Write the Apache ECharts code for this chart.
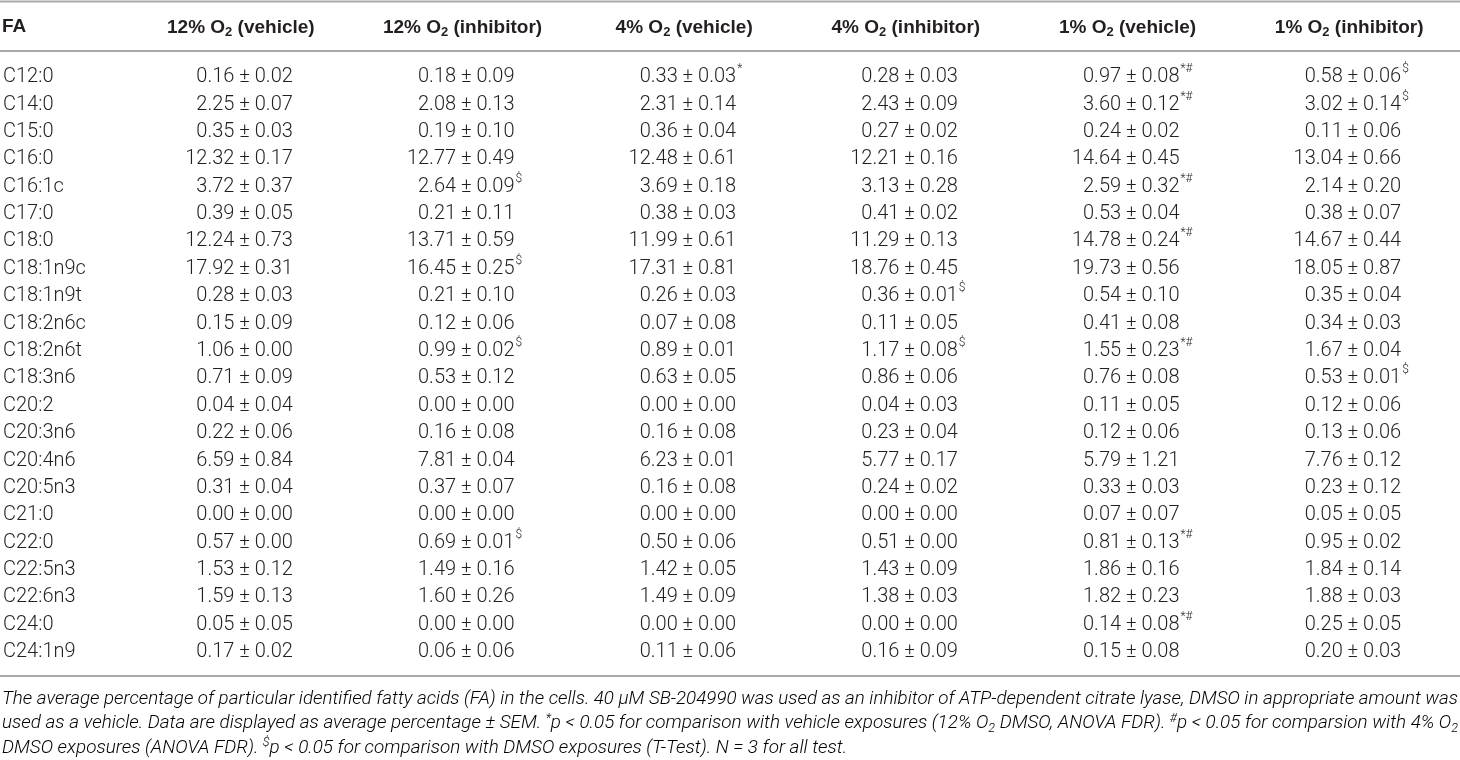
<!DOCTYPE html>
<html>
<head>
<meta charset="utf-8">
<script src="https://cdn.jsdelivr.net/npm/echarts@6/dist/echarts.min.js"></script>
<style>
  html, body { margin: 0; padding: 0; background: #fff; }
  #main { width: 1460px; height: 760px; }
</style>
</head>
<body>
<div id="main"></div>
<script>
// rows of the table
const fattyAcids = ['C12:0', 'C14:0', 'C15:0', 'C16:0', 'C16:1c', 'C17:0', 'C18:0', 'C18:1n9c',
  'C18:1n9t', 'C18:2n6c', 'C18:2n6t', 'C18:3n6', 'C20:2', 'C20:3n6', 'C20:4n6', 'C20:5n3',
  'C21:0', 'C22:0', 'C22:5n3', 'C22:6n3', 'C24:0', 'C24:1n9'];

// column headers: oxygen level + treatment
const oxygenLevels = ['12%', '12%', '4%', '4%', '1%', '1%'];
const treatments = ['vehicle', 'inhibitor', 'vehicle', 'inhibitor', 'vehicle', 'inhibitor'];

// average percentage and SEM per column
const mean12Veh = [0.16, 2.25, 0.35, 12.32, 3.72, 0.39, 12.24, 17.92, 0.28, 0.15, 1.06, 0.71, 0.04, 0.22, 6.59, 0.31, 0.00, 0.57, 1.53, 1.59, 0.05, 0.17];
const sem12Veh  = [0.02, 0.07, 0.03, 0.17, 0.37, 0.05, 0.73, 0.31, 0.03, 0.09, 0.00, 0.09, 0.04, 0.06, 0.84, 0.04, 0.00, 0.00, 0.12, 0.13, 0.05, 0.02];
const mean12Inh = [0.18, 2.08, 0.19, 12.77, 2.64, 0.21, 13.71, 16.45, 0.21, 0.12, 0.99, 0.53, 0.00, 0.16, 7.81, 0.37, 0.00, 0.69, 1.49, 1.60, 0.00, 0.06];
const sem12Inh  = [0.09, 0.13, 0.10, 0.49, 0.09, 0.11, 0.59, 0.25, 0.10, 0.06, 0.02, 0.12, 0.00, 0.08, 0.04, 0.07, 0.00, 0.01, 0.16, 0.26, 0.00, 0.06];
const mean4Veh  = [0.33, 2.31, 0.36, 12.48, 3.69, 0.38, 11.99, 17.31, 0.26, 0.07, 0.89, 0.63, 0.00, 0.16, 6.23, 0.16, 0.00, 0.50, 1.42, 1.49, 0.00, 0.11];
const sem4Veh   = [0.03, 0.14, 0.04, 0.61, 0.18, 0.03, 0.61, 0.81, 0.03, 0.08, 0.01, 0.05, 0.00, 0.08, 0.01, 0.08, 0.00, 0.06, 0.05, 0.09, 0.00, 0.06];
const mean4Inh  = [0.28, 2.43, 0.27, 12.21, 3.13, 0.41, 11.29, 18.76, 0.36, 0.11, 1.17, 0.86, 0.04, 0.23, 5.77, 0.24, 0.00, 0.51, 1.43, 1.38, 0.00, 0.16];
const sem4Inh   = [0.03, 0.09, 0.02, 0.16, 0.28, 0.02, 0.13, 0.45, 0.01, 0.05, 0.08, 0.06, 0.03, 0.04, 0.17, 0.02, 0.00, 0.00, 0.09, 0.03, 0.00, 0.09];
const mean1Veh  = [0.97, 3.60, 0.24, 14.64, 2.59, 0.53, 14.78, 19.73, 0.54, 0.41, 1.55, 0.76, 0.11, 0.12, 5.79, 0.33, 0.07, 0.81, 1.86, 1.82, 0.14, 0.15];
const sem1Veh   = [0.08, 0.12, 0.02, 0.45, 0.32, 0.04, 0.24, 0.56, 0.10, 0.08, 0.23, 0.08, 0.05, 0.06, 1.21, 0.03, 0.07, 0.13, 0.16, 0.23, 0.08, 0.08];
const mean1Inh  = [0.58, 3.02, 0.11, 13.04, 2.14, 0.38, 14.67, 18.05, 0.35, 0.34, 1.67, 0.53, 0.12, 0.13, 7.76, 0.23, 0.05, 0.95, 1.84, 1.88, 0.25, 0.20];
const sem1Inh   = [0.06, 0.14, 0.06, 0.66, 0.20, 0.07, 0.44, 0.87, 0.04, 0.03, 0.04, 0.01, 0.06, 0.06, 0.12, 0.12, 0.05, 0.02, 0.14, 0.03, 0.05, 0.03];

// significance marks (by fatty acid)
const marks12Veh = {};
const marks12Inh = { 'C16:1c': '$', 'C18:1n9c': '$', 'C18:2n6t': '$', 'C22:0': '$' };
const marks4Veh  = { 'C12:0': '*' };
const marks4Inh  = { 'C18:1n9t': '$', 'C18:2n6t': '$' };
const marks1Veh  = { 'C12:0': '*#', 'C14:0': '*#', 'C16:1c': '*#', 'C18:0': '*#', 'C18:2n6t': '*#', 'C22:0': '*#', 'C24:0': '*#' };
const marks1Inh  = { 'C12:0': '$', 'C14:0': '$', 'C18:3n6': '$' };

const columns = [
  [mean12Veh, sem12Veh, marks12Veh],
  [mean12Inh, sem12Inh, marks12Inh],
  [mean4Veh, sem4Veh, marks4Veh],
  [mean4Inh, sem4Inh, marks4Inh],
  [mean1Veh, sem1Veh, marks1Veh],
  [mean1Inh, sem1Inh, marks1Inh]
];

const BODY_FONT = 'Roboto, "Liberation Sans", sans-serif';
const HEAD_FONT = '"Liberation Sans", Arial, sans-serif';
const INK = '#231f20';
const RULE = '#a7a9ac';

// one cell per (column, row)
let cells = [];
columns.forEach((col, c) => {
  fattyAcids.forEach((fa, r) => {
    cells.push({
      value: [c, r],
      text: col[0][r].toFixed(2) + ' \u00b1 ' + col[1][r].toFixed(2),
      mark: col[2][fa] || ''
    });
  });
});

function headerLabel(i) {
  return '{b|' + oxygenLevels[i] + ' O}{s|2}{b| (' + treatments[i] + ')}';
}

function renderCell(params, api) {
  const cell = cells[params.dataIndex];
  const p = api.coord([api.value(0), api.value(1)]);
  const xr = p[0] + 52;
  return {
    type: 'group',
    children: [
      {
        type: 'text', x: xr, y: p[1],
        style: { text: cell.text, textAlign: 'right', textVerticalAlign: 'middle',
          fontSize: 20, fontWeight: 300, fontFamily: BODY_FONT, fill: INK }
      },
      {
        type: 'text', x: xr + 1, y: p[1] - 8,
        style: { text: cell.mark, textAlign: 'left', textVerticalAlign: 'middle',
          fontSize: 12, fontWeight: 300, fontFamily: BODY_FONT, fill: INK }
      }
    ]
  };
}

// footnote, split in the three printed lines
const footLines = [
  [['The average percentage of particular identified fatty acids (FA) in the cells. 40 \u03bcM SB-204990 was used as an inhibitor of ATP-dependent citrate lyase, DMSO in appropriate amount was', 'n']],
  [['used as a vehicle. Data are displayed as average percentage \u00b1 SEM. ', 'n'], ['*', 'sup'],
   ['p < 0.05 for comparison with vehicle exposures (12% O', 'n'], ['2', 'sub'],
   [' DMSO, ANOVA FDR). ', 'n'], ['#', 'sup'], ['p < 0.05 for comparsion with 4% O', 'n'], ['2', 'sub']],
  [['DMSO exposures (ANOVA FDR). ', 'n'], ['$', 'sup'],
   ['p < 0.05 for comparison with DMSO exposures (T-Test). N = 3 for all test.', 'n']]
];

const measureCtx = document.createElement('canvas').getContext('2d');
function lineWidth(tokens) {
  let w = 0;
  tokens.forEach(t => {
    const size = t[1] === 'n' ? 18 : 12;
    measureCtx.font = 'italic 300 ' + size + 'px ' + BODY_FONT;
    w += measureCtx.measureText(t[0]).width;
  });
  return w;
}

const footRich = {
  n: { fontSize: 18, fontStyle: 'italic', fontWeight: 300, fontFamily: BODY_FONT, lineHeight: 22, color: INK },
  sup: { fontSize: 12, fontStyle: 'italic', fontWeight: 300, fontFamily: BODY_FONT, lineHeight: 12, verticalAlign: 'top', color: INK },
  sub: { fontSize: 12, fontStyle: 'italic', fontWeight: 300, fontFamily: BODY_FONT, lineHeight: 8, verticalAlign: 'bottom', color: INK }
};

let footScale = [];
footLines.forEach((tokens, i) => {
  footScale.push(i < 2 ? 1456 / lineWidth(tokens) : footScale[1]);
});

let graphics = [
  { type: 'line', shape: { x1: 0, y1: 1.5, x2: 1460, y2: 1.5 }, style: { stroke: RULE, lineWidth: 2 } },
  { type: 'line', shape: { x1: 0, y1: 51, x2: 1460, y2: 51 }, style: { stroke: RULE, lineWidth: 2 } },
  { type: 'line', shape: { x1: 0, y1: 676, x2: 1460, y2: 676 }, style: { stroke: RULE, lineWidth: 2 } },
  { type: 'text', x: 2, y: 27,
    style: { text: 'FA', textVerticalAlign: 'middle', fontSize: 19, fontWeight: 'bold', fontFamily: HEAD_FONT, fill: INK } }
];
footLines.forEach((tokens, i) => {
  graphics.push({
    type: 'text', x: 2, y: 699 + i * 24.5, scaleX: footScale[i],
    style: {
      text: tokens.map(t => '{' + t[1] + '|' + t[0] + '}').join(''),
      rich: footRich, textVerticalAlign: 'middle'
    }
  });
});

const chart = echarts.init(document.getElementById('main'));
chart.setOption({
  animation: false,
  grid: { left: 129, top: 63.5, width: 1369, height: 602.4, containLabel: false },
  xAxis: {
    type: 'category',
    position: 'top',
    data: oxygenLevels.map((o, i) => i),
    axisLine: { show: false },
    axisTick: { show: false },
    splitLine: { show: false },
    axisLabel: {
      interval: 0,
      margin: 25,
      formatter: (v, i) => headerLabel(i),
      rich: {
        b: { fontSize: 19, fontWeight: 'bold', fontFamily: HEAD_FONT, color: INK, lineHeight: 22 },
        s: { fontSize: 13, fontWeight: 'bold', fontFamily: HEAD_FONT, color: INK, lineHeight: 6, verticalAlign: 'bottom' }
      }
    }
  },
  yAxis: {
    type: 'category',
    inverse: true,
    data: fattyAcids,
    axisLine: { show: false },
    axisTick: { show: false },
    splitLine: { show: false },
    axisLabel: {
      interval: 0,
      align: 'left',
      margin: 127,
      fontSize: 20,
      fontWeight: 300,
      fontFamily: BODY_FONT,
      color: INK
    }
  },
  series: [{
    type: 'custom',
    coordinateSystem: 'cartesian2d',
    clip: false,
    silent: true,
    renderItem: renderCell,
    data: cells.map(c => c.value)
  }],
  graphic: graphics
});
</script>
</body>
</html>
